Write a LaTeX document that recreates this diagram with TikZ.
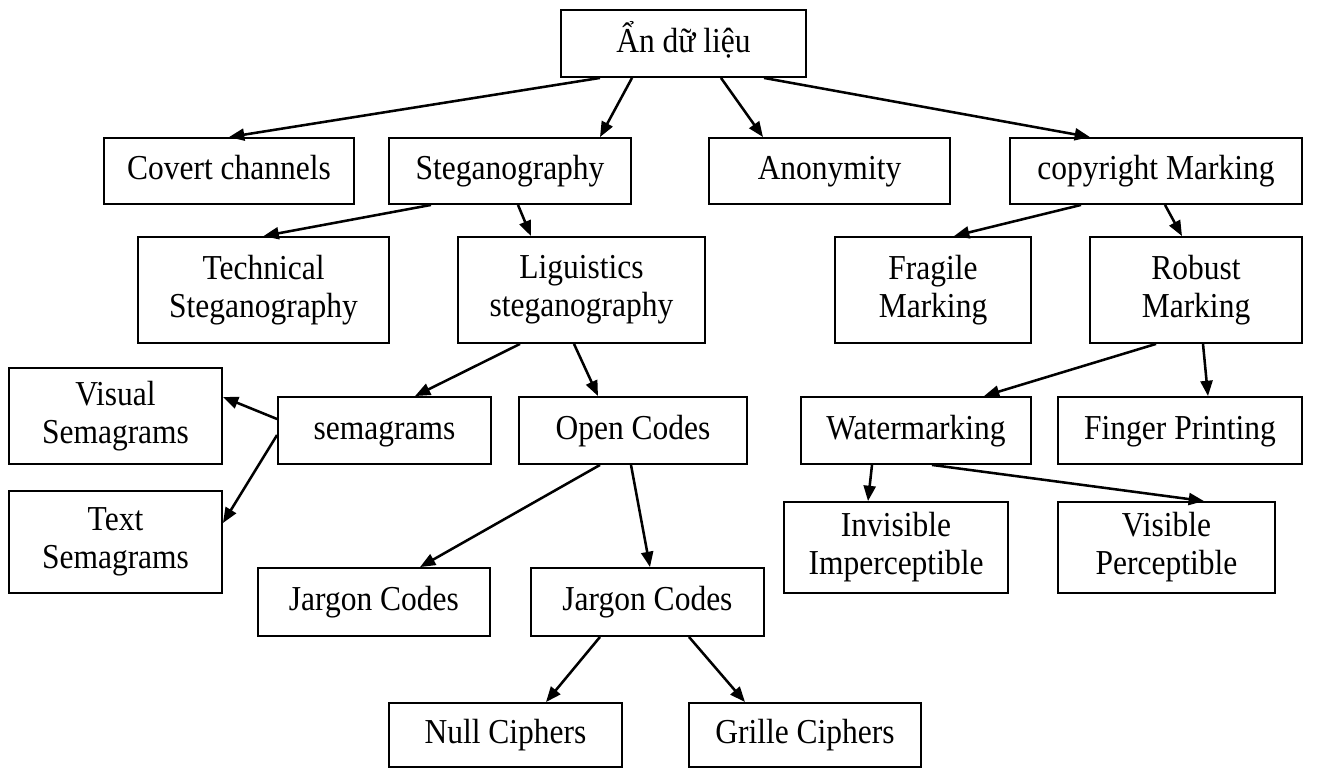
\documentclass[tikz,border=0pt]{standalone}
\usepackage{fontspec}
\setmainfont[FakeStretch=0.9]{Liberation Serif}
\usetikzlibrary{arrows.meta,calc}
\begin{document}
\begin{tikzpicture}[x=0.75pt,y=-0.75pt,
    box/.style 2 args={draw,line width=1.4pt,align=center,inner sep=0pt,
      minimum width=#1*0.75pt,minimum height=#2*0.75pt},
    oneline/.style={text height=18.4pt,text depth=5.25pt},
    font=\fontsize{26.25}{28.5}\selectfont]
  \useasboundingbox (0,0) rectangle (1325,768);
  \draw
    (683.5,43.5) node[box={245}{67},oneline] (an){Ẩn dữ liệu}
    (229,171) node[box={250}{66},oneline] (covert){Covert channels}
    (510,171) node[box={242}{66},oneline] (stego){Steganography}
    (829.5,171) node[box={241}{66},oneline] (anon){Anonymity}
    (1156,171) node[box={292}{66},oneline] (copy){copyright Marking}
    (263.5,290) node[box={251}{106}] (tech){Technical\\Steganography}
    (581.5,290) node[box={247}{106}] (ling){Liguistics\\steganography}
    (933,290) node[box={196}{106}] (fragile){Fragile\\Marking}
    (1196,290) node[box={212}{106}] (robust){Robust\\Marking}
    (115.5,416) node[box={213}{96}] (visualsem){Visual\\Semagrams}
    (384.5,430.5) node[box={213}{67},oneline] (sema){semagrams}
    (633,430.5) node[box={228}{67},oneline] (open){Open Codes}
    (916,430.5) node[box={230}{67},oneline] (water){Watermarking}
    (1180,430.5) node[box={244}{67},oneline] (finger){Finger Printing}
    (115.5,542) node[box={213}{102}] (textsem){Text\\Semagrams}
    (896,547.5) node[box={224}{91}] (invis){Invisible\\Imperceptible}
    (1166.5,547.5) node[box={217}{91}] (vis){Visible\\Perceptible}
    (374,602) node[box={232}{68},oneline] (jargonA){Jargon Codes}
    (647.5,602) node[box={233}{68},oneline] (jargonB){Jargon Codes}
    (505.5,735) node[box={233}{64},oneline] (null){Null Ciphers}
    (805,735) node[box={232}{64},oneline] (grille){Grille Ciphers};
  \begin{scope}[-{Triangle[length=11.5pt,width=9pt]},line width=1.9pt]
    \draw ($(an.south)+(-83.5,0)$) to (covert.north);
    \draw ($(an.south)+(-51.5,0)$) to ($(stego.north)+(90,0)$);
    \draw ($(an.south)+(37.5,0)$) to ($(anon.north)+(-66.5,0)$);
    \draw ($(an.south)+(80.5,0)$) to ($(copy.north)+(-66,0)$);
    \draw ($(stego.south)+(-79,0)$) to (tech.north);
    \draw ($(stego.south)+(8,0)$) to ($(ling.north)+(-50.5,0)$);
    \draw ($(copy.south)+(-75,0)$) to ($(fragile.north)+(21,0)$);
    \draw ($(copy.south)+(9,0)$) to ($(robust.north)+(-14,0)$);
    \draw ($(ling.south)+(-61.5,0)$) to ($(sema.north)+(30.5,0)$);
    \draw ($(ling.south)+(-7.5,0)$) to ($(open.north)+(-35,0)$);
    \draw ($(sema.west)+(0,-11.5)$) to ($(visualsem.east)+(0,-19)$);
    \draw ($(sema.west)+(0,4.5)$) to ($(textsem.east)+(0,-19)$);
    \draw ($(robust.south)+(-40,0)$) to ($(water.north)+(68,0)$);
    \draw ($(robust.south)+(7,0)$) to ($(finger.north)+(28,0)$);
    \draw ($(open.south)+(-33,0)$) to ($(jargonA.north)+(46,0)$);
    \draw ($(open.south)+(-2,0)$) to ($(jargonB.north)+(2.5,0)$);
    \draw ($(jargonB.south)+(-47.5,0)$) to ($(null.north)+(40.5,0)$);
    \draw ($(jargonB.south)+(41.5,0)$) to ($(grille.north)+(-60,0)$);
    \draw ($(water.south)+(-44,0)$) to ($(invis.north)+(-28,0)$);
    \draw ($(water.south)+(16,0)$) to ($(vis.north)+(37.5,0)$);
  \end{scope}
\end{tikzpicture}
\end{document}
